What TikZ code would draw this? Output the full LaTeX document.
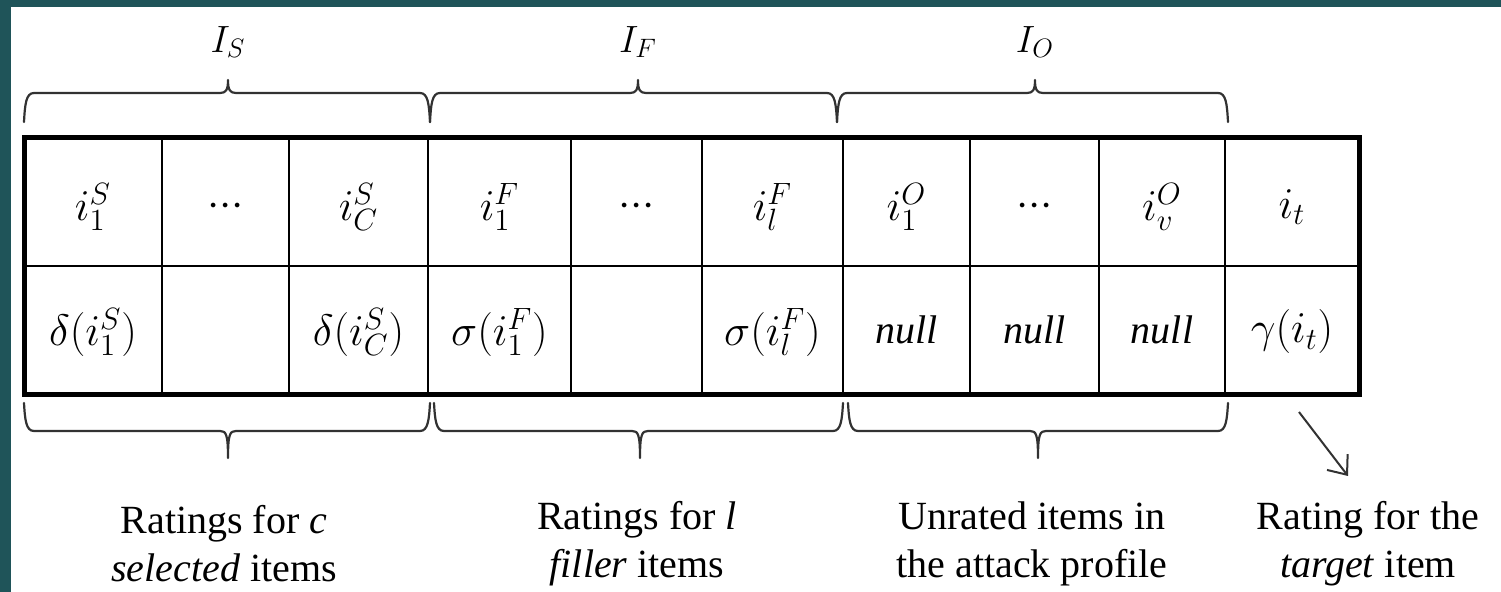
\RequirePackage{fix-cm}
\documentclass[tikz,border=0pt]{standalone}
\usepackage{fontspec}
\setmainfont{Liberation Serif}
\usetikzlibrary{arrows.meta}
\definecolor{tealdark}{RGB}{31,84,89}
\definecolor{teallight}{RGB}{62,122,110}
\definecolor{braceink}{RGB}{50,50,50}
\tikzset{
  cell/.style={font=\fontsize{22}{26}\selectfont, inner sep=0pt},
  nulltext/.style={font=\fontsize{20}{24}\selectfont, inner sep=0pt},
  setlabel/.style={font=\fontsize{19}{22}\selectfont, inner sep=0pt},
  caption/.style={font=\fontsize{20}{24}\selectfont, align=center, inner sep=0pt},
  bracestyle/.style={draw=braceink, line width=1.1pt, line join=round, line cap=round},
  gridline/.style={line width=1pt},
  frameline/.style={line width=2.5pt},
  pointer/.style={draw=braceink, line width=1pt, -{Straight Barb[length=8pt,width=13pt,line width=1pt]}},
}
% three close dots used for the elided columns
\newcommand{\dotrun}{${\cdot}{\cdot}{\cdot}$}
% horizontal curly brace above a group of columns: left end, tip, right end
\newcommand{\drawtopbrace}[3]{%
  \draw[bracestyle] (#1,122) .. controls (#1+1,104) and (#1+2,93) .. (#1+10,93)
    -- (#2-8,93) .. controls (#2-2,93) and (#2,90) .. (#2,80)
    .. controls (#2,90) and (#2+2,93) .. (#2+8,93)
    -- (#3-10,93) .. controls (#3-2,93) and (#3-1,104) .. (#3,122);}
% the same brace below the table, opening upwards
\newcommand{\drawbottombrace}[3]{%
  \draw[bracestyle] (#1,403) .. controls (#1+1,420) and (#1+2,431) .. (#1+10,431)
    -- (#2-8,431) .. controls (#2-2,431) and (#2,434) .. (#2,458)
    .. controls (#2,434) and (#2+2,431) .. (#2+8,431)
    -- (#3-10,431) .. controls (#3-2,431) and (#3-1,420) .. (#3,403);}
\begin{document}
\begin{tikzpicture}[x=0.5pt,y=-0.5pt]
\useasboundingbox (0,0) rectangle (1501,592);
\fill[white] (0,0) rectangle (1501,592);
% slide frame
\fill[tealdark] (0,0) rectangle (11,592);
\shade[left color=tealdark, middle color=teallight, right color=tealdark] (0,0) rectangle (1501,7);

% table grid
\foreach \x in {162,289,428,571,702,843,970,1099,1225}
  \draw[gridline] (\x,138) -- (\x,395);
\draw[gridline] (24,266) -- (1359,266);
\draw[frameline] (24,138) rectangle (1359,395);

% item row
\node[cell] (s1) at (93,207) {$i_1^S$};
\node[cell] (s2) at (225.5,207) {\dotrun};
\node[cell] (s3) at (358.5,207) {$i_C^S$};
\node[cell] (f1) at (499.5,207) {$i_1^F$};
\node[cell] (f2) at (636.5,207) {\dotrun};
\node[cell] (f3) at (772.5,207) {$i_l^F$};
\node[cell] (o1) at (906.5,207) {$i_1^O$};
\node[cell] (o2) at (1034.5,207) {\dotrun};
\node[cell] (o3) at (1162,207) {$i_v^O$};
\node[cell] (t1) at (1292,207) {$i_t$};

% rating row
\node[cell] (rs1) at (93,332) {$\delta(i_1^S)$};
\node[cell] (rs3) at (358.5,332) {$\delta(i_C^S)$};
\node[cell] (rf1) at (499.5,332) {$\sigma(i_1^F)$};
\node[cell] (rf3) at (772.5,332) {$\sigma(i_l^F)$};
\node[nulltext] (ro1) at (906.5,330) {\textit{null}};
\node[nulltext] (ro2) at (1034.5,330) {\textit{null}};
\node[nulltext] (ro3) at (1162,330) {\textit{null}};
\node[cell] (rt1) at (1292,332) {$\gamma(i_t)$};

% set braces and labels
\drawtopbrace{24}{228}{430}
\drawtopbrace{430}{638}{837}
\drawtopbrace{837}{1035}{1228}
\node[setlabel] (IS) at (228,42) {$I_S$};
\node[setlabel] (IF) at (638,42) {$I_F$};
\node[setlabel] (IO) at (1035,42) {$I_O$};

% rating braces and captions
\drawbottombrace{24}{228}{430}
\drawbottombrace{434}{640}{843}
\drawbottombrace{848}{1038}{1228}
\node[caption] (capS) at (224,544) {Ratings for \textit{c}\\\textit{selected} items};
\node[caption] (capF) at (637,544) {Ratings for \textit{l}\\\textit{filler} items};
\node[caption] (capO) at (1032,544) {Unrated items in\\the attack profile};
\node[caption] (capT) at (1368,544) {Rating for the\\\textit{target} item};

% pointer to the target rating
\coordinate (ptail) at (1299,412);
\coordinate (phead) at (1348,476);
\draw[pointer] (ptail) -- (phead);
\end{tikzpicture}
\end{document}
